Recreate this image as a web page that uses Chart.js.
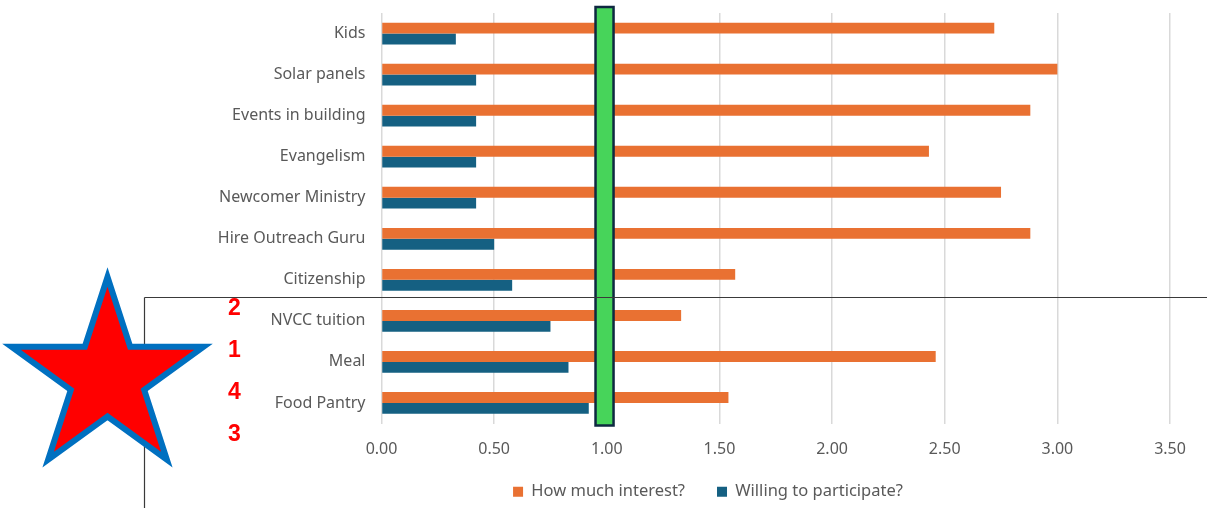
<!DOCTYPE html>
<html>
<head>
<meta charset="utf-8">
<script src="https://cdn.jsdelivr.net/npm/chart.js@4/dist/chart.umd.min.js"></script>
<style>
  html, body { margin: 0; padding: 0; background: #ffffff; }
  #wrap { width: 1207px; height: 508px; position: relative; }
</style>
</head>
<body>
<div id="wrap"><canvas id="c" width="1207" height="508"></canvas></div>
<script>
const categories = ["Kids", "Solar panels", "Events in building", "Evangelism", "Newcomer Ministry",
  "Hire Outreach Guru", "Citizenship", "NVCC tuition", "Meal", "Food Pantry"];
const interest = [2.72, 3.00, 2.88, 2.43, 2.75, 2.88, 1.57, 1.33, 2.46, 1.54];
const willing = [0.33, 0.42, 0.42, 0.42, 0.42, 0.50, 0.58, 0.75, 0.83, 0.92];
const seriesNames = ["How much interest?", "Willing to participate?"];
const xTicks = [0, 0.5, 1, 1.5, 2, 2.5, 3, 3.5];
const rankLabels = ["2", "1", "4", "3"];
const highlightRange = [0.95, 1.03];

const FONT = "'Noto Sans', 'Open Sans', sans-serif";
const TEXT = "#595959";

const legendShift = {
  id: "legendShift",
  afterLayout(chart) {
    const lg = chart.legend;
    if (lg) {
      const dx = 708 - (lg.left + lg.right) / 2;
      lg.left += dx; lg.right += dx;
      lg.top += 2; lg.bottom += 2;
    }
    // let the x tick labels draw below the (short) axis box
    chart.scales.x.bottom = chart.height;
  }
};

const overlay = {
  id: "overlay",
  afterDraw(chart) {
    const ctx = chart.ctx;
    const xs = chart.scales.x;
    const area = chart.chartArea;
    ctx.save();
    // green highlight box
    const x1 = xs.getPixelForValue(highlightRange[0]);
    const x2 = xs.getPixelForValue(highlightRange[1]);
    ctx.fillStyle = "#47D45A";
    ctx.strokeStyle = "#0E2841";
    ctx.lineWidth = 2.5;
    ctx.fillRect(x1, area.top - 6, x2 - x1, area.bottom - area.top + 8);
    ctx.strokeRect(x1, area.top - 6, x2 - x1, area.bottom - area.top + 8);
    // frame lines
    ctx.strokeStyle = "#3a3a3a";
    ctx.lineWidth = 1.2;
    ctx.beginPath();
    ctx.moveTo(144.5, 297.5); ctx.lineTo(1207, 297.5);
    ctx.moveTo(144.5, 297.5); ctx.lineTo(144.5, 508);
    ctx.stroke();
    // star
    const cx = 107.5, cy = 378, R = 101, r = R * 0.382;
    ctx.beginPath();
    for (let i = 0; i < 10; i++) {
      const ang = -Math.PI / 2 + i * Math.PI / 5;
      const rad = i % 2 === 0 ? R : r;
      const px = cx + rad * Math.cos(ang), py = cy + rad * Math.sin(ang);
      if (i === 0) ctx.moveTo(px, py); else ctx.lineTo(px, py);
    }
    ctx.closePath();
    ctx.fillStyle = "#FF0000";
    ctx.fill();
    ctx.strokeStyle = "#0070C0";
    ctx.lineWidth = 6;
    ctx.lineJoin = "miter";
    ctx.stroke();
    // rank numbers
    ctx.fillStyle = "#FF0000";
    ctx.font = "bold 23px 'Liberation Sans', sans-serif";
    ctx.textAlign = "center";
    ctx.textBaseline = "middle";
    rankLabels.forEach((t, i) => ctx.fillText(t, 234.5, 309 + i * 42));
    ctx.restore();
  }
};

new Chart(document.getElementById("c"), {
  type: "bar",
  data: {
    labels: categories,
    datasets: [
      { label: seriesNames[0], data: interest, backgroundColor: "#E97132", categoryPercentage: 0.53, barPercentage: 1.0 },
      { label: seriesNames[1], data: willing, backgroundColor: "#156082", categoryPercentage: 0.53, barPercentage: 1.0 }
    ]
  },
  options: {
    indexAxis: "y",
    responsive: false,
    animation: false,
    devicePixelRatio: 1,
    layout: { padding: { left: 0, right: 37, top: 13, bottom: 0 } },
    scales: {
      x: {
        min: 0, max: 3.5,
        afterBuildTicks(scale) { scale.ticks = xTicks.map(v => ({ value: v })); },
        grid: { color: "#D9D9D9", lineWidth: 1.5, drawTicks: false },
        border: { display: false },
        ticks: {
          color: TEXT, font: { family: FONT, size: 16 }, padding: 16,
          callback: v => Number(v).toFixed(2)
        },
        afterFit(scale) { scale.height = 26; scale.paddingLeft = 0; scale.paddingRight = 0; }
      },
      y: {
        grid: { display: false, drawTicks: false },
        border: { display: false },
        ticks: { color: TEXT, font: { family: FONT, size: 16 }, padding: 16 },
        afterFit(scale) { scale.width = 381.5; scale.paddingTop = 0; scale.paddingBottom = 0; }
      }
    },
    plugins: {
      legend: {
        position: "bottom",
        labels: {
          color: TEXT, font: { family: FONT, size: 16.5 },
          boxWidth: 10, boxHeight: 10, padding: 32
        }
      },
      tooltip: { enabled: false }
    }
  },
  plugins: [legendShift, overlay]
});
</script>
</body>
</html>
